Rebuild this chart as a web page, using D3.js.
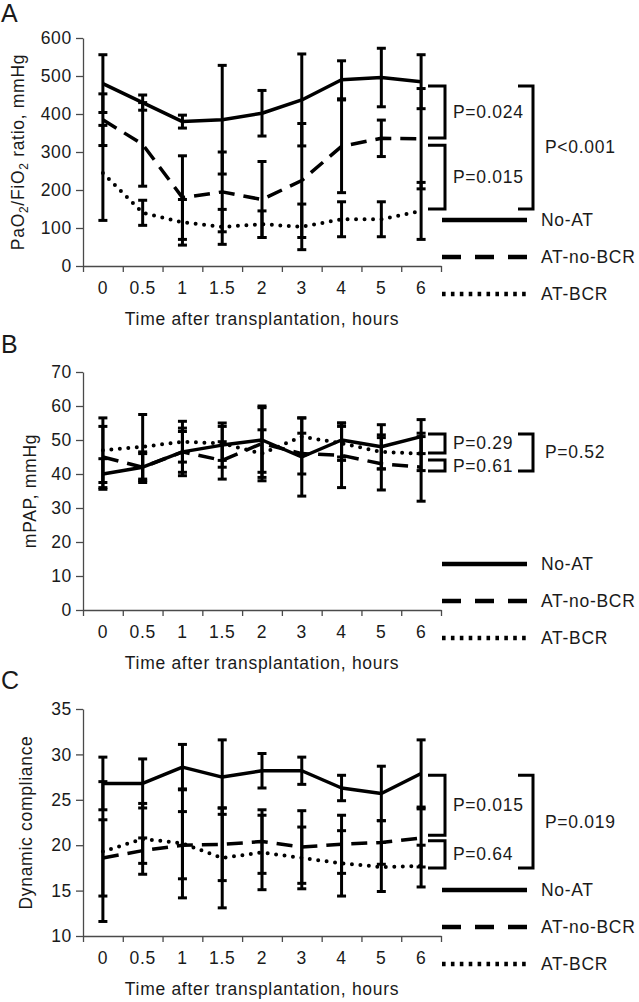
<!DOCTYPE html>
<html>
<head>
<meta charset="utf-8">
<script src="https://cdn.jsdelivr.net/npm/d3@7"></script>
<style>
body { margin: 0; background: #fff; }
text { font-family: "Liberation Sans", Arial, sans-serif; font-size: 17.5px; fill: #1a1a1a; letter-spacing: 0.7px; }
</style>
</head>
<body>
<svg id="chart" width="639" height="1002"></svg>
<script>
// time points (hours)
var timeLabels = ["0", "0.5", "1", "1.5", "2", "3", "4", "5", "6"];
var seriesNames = ["No-AT", "AT-no-BCR", "AT-BCR"];

// A: PaO2/FiO2 ratio
var pfTicks = [0, 100, 200, 300, 400, 500, 600];
var pfNoAT = [480, 430, 380, 385, 402, 437, 490, 496, 485];
var pfNoATSd = [76, 20, 17, 143, 60, 121, 50, 77, 71];
var pfAtNoBcr = [385, 320, 180, 195, 175, 225, 315, 336, 335];
var pfAtNoBcrSd = [68, 110, 110, 105, 100, 150, 122, 48, 132];
var pfAtBcr = [245, 140, 115, 103, 110, 103, 123, 123, 145];
var pfAtBcrSd = [125, 33, 60, 46, 35, 60, 46, 46, 75];
var pfSpans = [[474, 337], [318, 150]];
var pfP = ["P=0.024", "P=0.015"];
var pfOverall = "P<0.001";

// B: mPAP
var mpapTicks = [0, 10, 20, 30, 40, 50, 60, 70];
var mpapNoAT = [40, 42, 46.5, 48.5, 50, 45, 50, 48, 51];
var mpapNoATSd = [4.5, 4, 6, 6.5, 9.5, 11.5, 5, 6.5, 5];
var mpapAtNoBcr = [45, 42, 46.5, 44, 49, 46, 45.5, 43, 42];
var mpapAtNoBcrSd = [9, 4.5, 7, 5.5, 11, 6, 9.5, 7.7, 10];
var mpapAtBcr = [47, 48, 49.5, 49, 46, 51, 49, 46.5, 46];
var mpapAtBcrSd = [9.5, 9.5, 6, 5, 7, 5.5, 5, 5, 5];
var mpapSpans = [[51.8, 46.2], [44.1, 40.9]];
var mpapP = ["P=0.29", "P=0.61"];
var mpapOverall = "P=0.52";

// C: dynamic compliance
var dcTicks = [10, 15, 20, 25, 30, 35];
var dcNoAT = [26.8, 26.8, 28.6, 27.5, 28.2, 28.2, 26.3, 25.7, 27.9];
var dcNoATSd = [2.9, 2.7, 2.5, 4.1, 1.9, 1.5, 1.4, 3, 3.7];
var dcAtNoBcr = [18.6, 19.4, 20.0, 20.1, 20.4, 19.8, 20.1, 20.3, 20.8];
var dcAtNoBcrSd = [4.2, 1.4, 3.7, 4, 3.5, 4, 3.2, 2.4, 3.2];
var dcAtBcr = [19.3, 20.7, 20.2, 18.6, 19.2, 18.6, 18.0, 17.6, 17.7];
var dcAtBcrSd = [7.7, 3.9, 6, 5.5, 4.1, 3.4, 3.6, 2.7, 2.3];
var dcSpans = [[27.7, 21.1], [20.5, 17.5]];
var dcP = ["P=0.015", "P=0.64"];
var dcOverall = "P=0.019";

var panels = [
  { letter: "A", letterY: 22, top: 38, bottom: 266, titleX: 24, ticks: pfTicks,
    means: [pfNoAT, pfAtNoBcr, pfAtBcr], sds: [pfNoATSd, pfAtNoBcrSd, pfAtBcrSd],
    spans: pfSpans, pLabels: pfP, overall: pfOverall, title: "pf" },
  { letter: "B", letterY: 353, top: 372, bottom: 610, titleX: 36, ticks: mpapTicks,
    means: [mpapNoAT, mpapAtNoBcr, mpapAtBcr], sds: [mpapNoATSd, mpapAtNoBcrSd, mpapAtBcrSd],
    spans: mpapSpans, pLabels: mpapP, overall: mpapOverall, title: "mPAP, mmHg" },
  { letter: "C", letterY: 689, top: 709, bottom: 936, titleX: 32, ticks: dcTicks,
    means: [dcNoAT, dcAtNoBcr, dcAtBcr], sds: [dcNoATSd, dcAtNoBcrSd, dcAtBcrSd],
    spans: dcSpans, pLabels: dcP, overall: dcOverall, title: "Dynamic compliance" }
];

// line styles for the 3 groups
var dashes = [null, "16,9", "0,8.5"];
var caps = ["butt", "butt", "round"];
var widths = [3.5, 3.5, 4];
var legendDashes = [null, "19,14", "3.6,5.3"];

var svg = d3.select("#chart");
svg.append("rect").attr("width", 639).attr("height", 1002).attr("fill", "#fff");

var left = 83, right = 441;
var x = d3.scaleBand().domain(timeLabels).range([left, right]);
var xEdge = d3.scaleLinear().domain([0, timeLabels.length]).range([left, right]);
var cx = function(i) { return x(timeLabels[i]) + x.bandwidth() / 2; };

function styleAxis(sel) {
  sel.selectAll("path, line").attr("stroke", "#4a4a4a").attr("stroke-width", 1.3);
}

panels.forEach(function(p) {
  var g = svg.append("g");
  var y = d3.scaleLinear()
    .domain([p.ticks[0], p.ticks[p.ticks.length - 1]])
    .range([p.bottom, p.top]);

  // axes
  var ya = g.append("g").attr("transform", "translate(" + left + ",0)")
    .call(d3.axisLeft(y).tickValues(p.ticks).tickSize(7).tickPadding(4).tickSizeOuter(0));
  styleAxis(ya);

  var xa = g.append("g").attr("transform", "translate(0," + p.bottom + ")")
    .call(d3.axisBottom(xEdge).tickValues(d3.range(timeLabels.length + 1))
      .tickSize(6).tickSizeOuter(0).tickFormat(""));
  styleAxis(xa);

  var xl = g.append("g").attr("transform", "translate(0," + p.bottom + ")")
    .call(d3.axisBottom(x).tickSize(0).tickPadding(16));
  xl.select(".domain").remove();

  // error bars
  p.means.forEach(function(m, s) {
    var eb = g.append("g");
    m.forEach(function(v, i) {
      var lo = y(v - p.sds[s][i]), hi = y(v + p.sds[s][i]);
      eb.append("line").attr("x1", cx(i)).attr("x2", cx(i)).attr("y1", lo).attr("y2", hi)
        .attr("stroke", "#000").attr("stroke-width", 3);
      [lo, hi].forEach(function(yy) {
        eb.append("line").attr("x1", cx(i) - 4.5).attr("x2", cx(i) + 4.5)
          .attr("y1", yy).attr("y2", yy).attr("stroke", "#000").attr("stroke-width", 3);
      });
    });
  });

  // mean lines
  var line = d3.line().x(function(d, i) { return cx(i); }).y(function(d) { return y(d); });
  p.means.forEach(function(m, s) {
    g.append("path").datum(m).attr("d", line)
      .attr("fill", "none").attr("stroke", "#000")
      .attr("stroke-width", widths[s])
      .attr("stroke-linecap", caps[s])
      .attr("stroke-linejoin", "round")
      .attr("stroke-dasharray", dashes[s]);
  });

  // brackets with p values
  p.spans.forEach(function(sp, k) {
    var y1 = y(sp[0]), y2 = y(sp[1]);
    g.append("path")
      .attr("d", "M428," + y1 + "H445V" + y2 + "H428")
      .attr("fill", "none").attr("stroke", "#000").attr("stroke-width", 3);
    g.append("text").attr("x", 453).attr("y", (y1 + y2) / 2)
      .attr("dominant-baseline", "central").text(p.pLabels[k]);
  });
  var by1 = y(p.spans[0][0]), by2 = y(p.spans[p.spans.length - 1][1]);
  g.append("path")
    .attr("d", "M518," + by1 + "H533V" + by2 + "H518")
    .attr("fill", "none").attr("stroke", "#000").attr("stroke-width", 3);
  g.append("text").attr("x", 545).attr("y", (by1 + by2) / 2)
    .attr("dominant-baseline", "central").text(p.overall);

  // legend
  var legOff = [-46, -9, 28];
  seriesNames.forEach(function(name, s) {
    var ly = p.bottom + legOff[s];
    g.append("line").attr("x1", 442).attr("x2", 527).attr("y1", ly).attr("y2", ly)
      .attr("stroke", "#000").attr("stroke-width", 4.5)
      .attr("stroke-dasharray", legendDashes[s]);
    g.append("text").attr("x", 541).attr("y", ly)
      .attr("dominant-baseline", "central").text(name);
  });

  // x axis title
  g.append("text").attr("x", (left + right) / 2).attr("y", p.bottom + 59)
    .attr("text-anchor", "middle").text("Time after transplantation, hours");

  // y axis title
  var yt = g.append("text")
    .attr("transform", "translate(" + p.titleX + "," + (p.top + p.bottom) / 2 + ") rotate(-90)")
    .attr("text-anchor", "middle");
  if (p.title === "pf") {
    yt.append("tspan").text("PaO");
    yt.append("tspan").attr("dy", 4).style("font-size", "12px").text("2");
    yt.append("tspan").attr("dy", -4).text("/FiO");
    yt.append("tspan").attr("dy", 4).style("font-size", "12px").text("2");
    yt.append("tspan").attr("dy", -4).text(" ratio, mmHg");
  } else {
    yt.text(p.title);
  }

  // panel letter
  g.append("text").attr("x", 1).attr("y", p.letterY)
    .style("font-size", "25px").style("letter-spacing", "0px").text(p.letter);
});
</script>
</body>
</html>
